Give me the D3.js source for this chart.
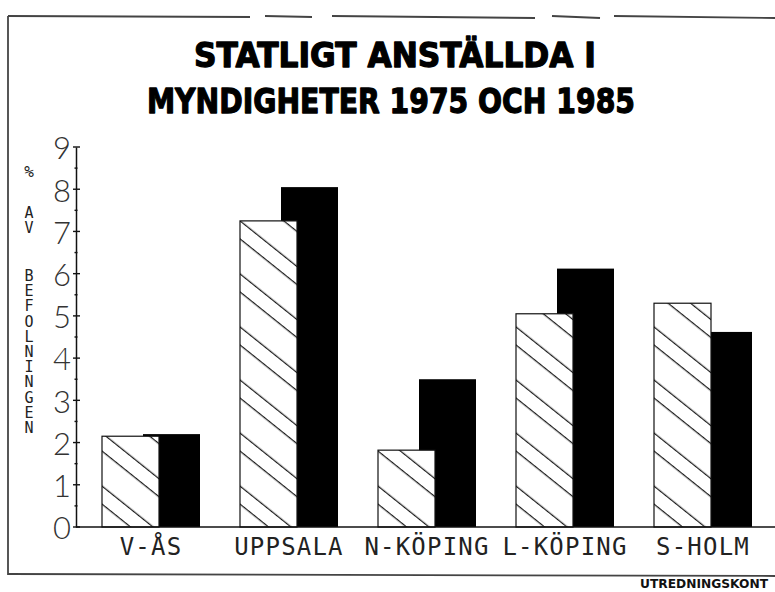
<!DOCTYPE html>
<html>
<head>
<meta charset="utf-8">
<script src="https://cdn.jsdelivr.net/npm/d3@7"></script>
<style>
  body { margin: 0; background: #fff; }
  svg { display: block; }
</style>
</head>
<body>
<div id="wrapper"></div>
<script>
const width = 775,
    height = 592;

// data (% av befolkningen)
const places = ["V-ÅS", "UPPSALA", "N-KÖPING", "L-KÖPING", "S-HOLM"];
const years = ["1975", "1985"];
const v1975 = [2.15, 7.25, 1.82, 5.05, 5.3];
const v1985 = [2.2, 8.05, 3.5, 6.12, 4.62];
const yTicks = [0, 1, 2, 3, 4, 5, 6, 7, 8, 9];
const titleLines = ["STATLIGT ANSTÄLLDA I", "MYNDIGHETER 1975 OCH 1985"];
const yTitleWords = ["%", "AV", "BEFOLNINGEN"];

const rows = places.map((p, i) => ({place: p, "1975": v1975[i], "1985": v1985[i]}));

const svg = d3.select("#wrapper")
    .append("svg")
    .attr("width", width)
    .attr("height", height)
    .attr("viewBox", [0, 0, width, height]);

// paired diagonal hatching like the plotter fill
const defs = svg.append("defs");
const hatch = defs.append("pattern")
    .attr("id", "hatch")
    .attr("patternUnits", "userSpaceOnUse")
    .attr("width", 20)
    .attr("height", 41.4)
    .attr("patternTransform", "rotate(38.7)");
hatch.append("rect").attr("width", 20).attr("height", 41.4).attr("fill", "#fff");
hatch.append("path")
    .attr("d", "M-1,4.6H21M-1,32H21")
    .attr("stroke", "#1a1a1a")
    .attr("stroke-width", 1.2);

// scales
const y = d3.scaleLinear().domain([0, 9]).range([527, 147]);
const x0 = d3.scaleBand().domain(places).range([76, 766]).padding(0);
const x1 = d3.scalePoint().domain(years).range([26, 67]);
const barW = 57;

// frame (scanned page border)
const frame = svg.append("g")
    .attr("stroke", "#444")
    .attr("stroke-width", 1.8)
    .attr("fill", "none");
frame.append("line").attr("x1", 8).attr("y1", 16).attr("x2", 8).attr("y2", 575);
frame.append("line").attr("x1", 8).attr("y1", 574).attr("x2", 775).attr("y2", 576);
[[8, 250], [265, 312], [332, 535], [552, 600], [614, 775]].forEach(s => {
    frame.append("line")
        .attr("x1", s[0]).attr("y1", 16)
        .attr("x2", s[1]).attr("y2", 17 + (s[0] > 300 ? 1 : 0));
});

// title
svg.append("g")
    .selectAll("text")
    .data(titleLines)
    .enter().append("text")
    .attr("x", (d, i) => i === 0 ? 395 : 391)
    .attr("y", (d, i) => i === 0 ? 67 : 113)
    .attr("text-anchor", "middle")
    .attr("textLength", (d, i) => i === 0 ? 402 : 488)
    .attr("lengthAdjust", "spacingAndGlyphs")
    .style("font-family", "'DejaVu Sans', sans-serif")
    .style("font-weight", "bold")
    .style("font-size", "34px")
    .style("fill", "#000")
    .style("stroke", "#000")
    .style("stroke-width", "1.3px")
    .style("stroke-linejoin", "round")
    .text(d => d);

// bars: 1985 solid first, 1975 hatched on top
const groups = svg.append("g")
    .selectAll("g")
    .data(rows)
    .enter().append("g")
    .attr("transform", d => "translate(" + x0(d.place) + ",0)");

groups.append("rect")
    .attr("x", x1("1985"))
    .attr("y", d => y(d["1985"]))
    .attr("width", barW)
    .attr("height", d => y(0) - y(d["1985"]))
    .attr("fill", "#000");

groups.append("rect")
    .attr("x", x1("1975"))
    .attr("y", d => y(d["1975"]))
    .attr("width", barW)
    .attr("height", d => y(0) - y(d["1975"]))
    .attr("fill", "url(#hatch)")
    .attr("stroke", "#111")
    .attr("stroke-width", 1.2);

// baseline
svg.append("line")
    .attr("x1", 76).attr("x2", 775)
    .attr("y1", y(0)).attr("y2", y(0))
    .attr("stroke", "#111")
    .attr("stroke-width", 1.5);

// category labels
svg.append("g")
    .selectAll("text")
    .data(places)
    .enter().append("text")
    .attr("x", d => x0(d) + 75)
    .attr("y", 555)
    .attr("text-anchor", "middle")
    .style("font-family", "'DejaVu Sans Mono', monospace")
    .style("font-size", "24px")
    .style("letter-spacing", "1.2px")
    .style("fill", "#222")
    .text(d => d);

// y axis
const yAxis = svg.append("g")
    .attr("transform", "translate(76,0)")
    .call(d3.axisLeft(y).tickValues(yTicks).tickSize(0).tickPadding(5).tickFormat(d3.format("d")));
yAxis.select(".domain").attr("stroke", "#111").attr("stroke-width", 1.5);
yAxis.selectAll("text")
    .attr("dy", "0.38em")
    .style("font-family", "Lato, sans-serif")
    .style("font-weight", 300)
    .style("font-size", "31px")
    .style("fill", "#333");

svg.append("g")
    .selectAll("line")
    .data(d3.range(0, 9.01, 0.5))
    .enter().append("line")
    .attr("x1", d => Number.isInteger(d) ? 73 : 74.5)
    .attr("x2", d => Number.isInteger(d) ? 80 : 77.5)
    .attr("y1", d => y(d)).attr("y2", d => y(d))
    .attr("stroke", "#111")
    .attr("stroke-width", 1.4);

// vertical axis title, stacked letters
svg.append("g")
    .selectAll("text")
    .data(yTitleWords)
    .enter().append("text")
    .attr("x", 29)
    .attr("y", (d, i) => [162, 204, 267][i])
    .style("writing-mode", "vertical-rl")
    .style("text-orientation", "upright")
    .style("font-family", "'DejaVu Sans Mono', monospace")
    .style("font-size", (d, i) => i === 0 ? "16px" : "15px")
    .style("letter-spacing", "-2.8px")
    .style("fill", "#222")
    .text(d => d);

// footer
svg.append("text")
    .attr("x", 640)
    .attr("y", 588)
    .attr("textLength", 128)
    .attr("lengthAdjust", "spacingAndGlyphs")
    .style("font-family", "'DejaVu Sans', sans-serif")
    .style("font-weight", "bold")
    .style("font-size", "13px")
    .style("fill", "#111")
    .text("UTREDNINGSKONT");
</script>
</body>
</html>
